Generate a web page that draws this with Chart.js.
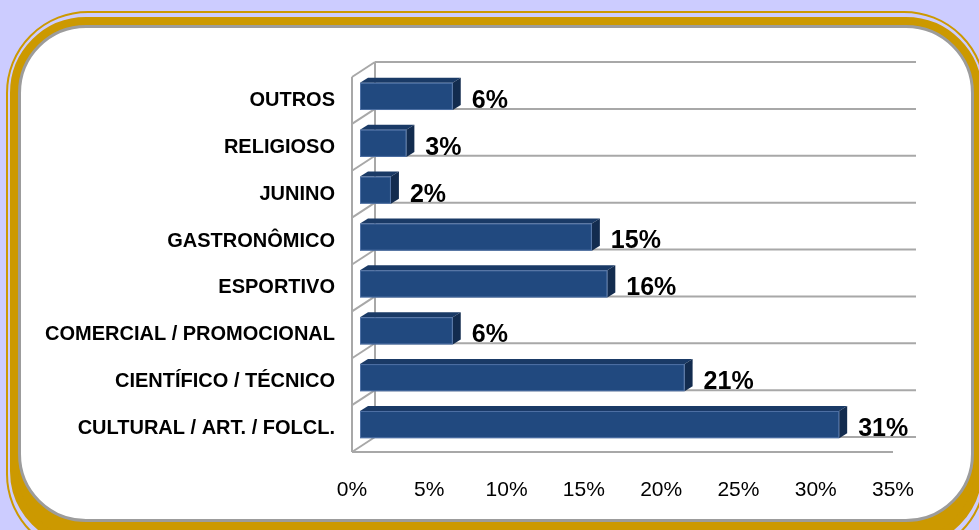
<!DOCTYPE html>
<html>
<head>
<meta charset="utf-8">
<script src="https://cdn.jsdelivr.net/npm/chart.js@4.4.0/dist/chart.umd.min.js"></script>
<style>
  html, body { margin: 0; padding: 0; width: 979px; height: 530px; overflow: hidden; background: #ccccff; }
  .ring { position: absolute; box-sizing: border-box; }
  #outer { left: 6px; top: 11px; width: 980px; height: 545px; border: 2.5px solid #cc9900; border-radius: 82px; }
  #band { left: 10px; top: 17px; width: 972px; height: 530px; border: 8px solid #cc9900; border-radius: 76px; background: #cc9900; }
  #panel { left: 18px; top: 25px; width: 956px; height: 497px; border: 3px solid #9c9c9c; border-radius: 68px; background: #ffffff; }
  #wrap { position: absolute; left: 0; top: 0; width: 979px; height: 530px; }
</style>
</head>
<body>
<div class="ring" id="outer"></div>
<div class="ring" id="band"></div>
<div class="ring" id="panel"></div>
<div id="wrap"><canvas id="chart" width="979" height="530"></canvas></div>
<script>
const categories = [
  "OUTROS",
  "RELIGIOSO",
  "JUNINO",
  "GASTRONÔMICO",
  "ESPORTIVO",
  "COMERCIAL / PROMOCIONAL",
  "CIENTÍFICO / TÉCNICO",
  "CULTURAL / ART. / FOLCL.",
];
const shares = [6, 3, 2, 15, 16, 6, 21, 31]; // percent
const xTicks = [0, 5, 10, 15, 20, 25, 30, 35];

const WALL = { dx: 23, dy: -15 };   // depth of the 3D box
const BAR_SHIFT = { dx: 8, dy: -4 }; // bar front face inside the box
const BAR_DEPTH = { dx: 8, dy: -5 };

function line(ctx, x1, y1, x2, y2) {
  ctx.beginPath();
  ctx.moveTo(x1, y1);
  ctx.lineTo(x2, y2);
  ctx.stroke();
}

function poly(ctx, pts, fill) {
  ctx.beginPath();
  ctx.moveTo(pts[0][0], pts[0][1]);
  for (const p of pts.slice(1)) ctx.lineTo(p[0], p[1]);
  ctx.closePath();
  ctx.fillStyle = fill;
  ctx.fill();
}

const box3d = {
  id: "box3d",
  beforeDatasetsDraw(chart) {
    const { ctx, chartArea: a } = chart;
    const n = categories.length;
    const band = (a.bottom - a.top) / n;
    ctx.save();
    ctx.strokeStyle = "#a8a8a8";
    ctx.lineWidth = 2;
    for (let i = 0; i <= n; i++) {
      const yy = a.top + i * band;
      line(ctx, a.left + WALL.dx, yy + WALL.dy, a.right + WALL.dx, yy + WALL.dy);
      line(ctx, a.left, yy, a.left + WALL.dx, yy + WALL.dy);
    }
    line(ctx, a.left, a.top, a.left, a.bottom);
    line(ctx, a.left + WALL.dx, a.top + WALL.dy, a.left + WALL.dx, a.bottom + WALL.dy);
    line(ctx, a.left, a.bottom, a.right, a.bottom);
    ctx.restore();
  },
  afterDatasetsDraw(chart) {
    const { ctx } = chart;
    const meta = chart.getDatasetMeta(0);
    ctx.save();
    meta.data.forEach((el, i) => {
      const x0 = el.base + BAR_SHIFT.dx;
      const x1 = el.x + BAR_SHIFT.dx;
      const yT = el.y - el.height / 2 + BAR_SHIFT.dy;
      const yB = el.y + el.height / 2 + BAR_SHIFT.dy;
      const bx = BAR_DEPTH.dx, by = BAR_DEPTH.dy;
      poly(ctx, [[x0, yT], [x1, yT], [x1 + bx, yT + by], [x0 + bx, yT + by]], "#1a3a66");
      poly(ctx, [[x1, yT], [x1 + bx, yT + by], [x1 + bx, yB + by], [x1, yB]], "#132c4f");
      poly(ctx, [[x0, yT], [x1, yT], [x1, yB], [x0, yB]], "#21497f");
      ctx.strokeStyle = "rgba(110,140,190,0.6)";
      ctx.lineWidth = 1;
      ctx.strokeRect(x0 + 0.5, yT + 0.5, x1 - x0 - 1, yB - yT - 1);

      ctx.fillStyle = "#000";
      ctx.font = "bold 25px 'Liberation Sans', Arial, sans-serif";
      ctx.textAlign = "left";
      ctx.textBaseline = "middle";
      ctx.fillText(shares[i] + "%", x1 + bx + 11, el.y + 0.5);
    });
    ctx.restore();
  },
};

new Chart(document.getElementById("chart"), {
  type: "bar",
  data: {
    labels: categories,
    datasets: [{
      data: shares,
      backgroundColor: "rgba(0,0,0,0)",
      borderWidth: 0,
      categoryPercentage: 1,
      barPercentage: 0.58,
    }],
  },
  options: {
    indexAxis: "y",
    responsive: false,
    animation: false,
    layout: { padding: { top: 77, right: 86, left: 0, bottom: 0 } },
    plugins: { legend: { display: false }, tooltip: { enabled: false } },
    scales: {
      x: {
        min: 0,
        max: 35,
        afterBuildTicks: (s) => { s.ticks = xTicks.map((v) => ({ value: v })); },
        afterFit: (s) => { s.height = 78; },
        grid: { display: false, drawTicks: false },
        border: { display: false },
        ticks: {
          padding: 26,
          color: "#000",
          font: { family: "'Liberation Sans', Arial, sans-serif", size: 21 },
          callback: (v) => v + "%",
        },
      },
      y: {
        afterFit: (s) => { s.width = 352; },
        grid: { display: false, drawTicks: false },
        border: { display: false },
        ticks: {
          padding: 17,
          color: "#000",
          font: { family: "'Liberation Sans', Arial, sans-serif", size: 20, weight: "bold" },
        },
      },
    },
  },
  plugins: [box3d],
});
</script>
</body>
</html>
